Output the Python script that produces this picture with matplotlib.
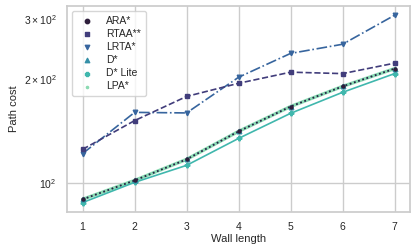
import matplotlib
matplotlib.use('Agg')
import matplotlib.pyplot as plt
import seaborn as sns

sns.set_theme(style='whitegrid')
plt.rcParams['font.family'] = ['Liberation Sans', 'DejaVu Sans']

# 벽 길이별 경로 비용
wall_length = [1, 2, 3, 4, 5, 6, 7]
ara = [89.9, 102, 117.4, 141.5, 167, 191, 215]
rtaa = [125.5, 152, 178.6, 195, 210, 208, 223]
lrta = [122, 160.6, 160, 203, 238, 253, 307]
dstar = [89.9, 102, 117.4, 141.5, 167, 191, 215]
dstar_lite = [88, 100.7, 112.8, 135, 159.6, 183.6, 208]
lpa = [89.9, 102, 117.4, 141.5, 167, 191, 215]

names = ['ARA*', 'RTAA**', 'LRTA*', 'D*', 'D* Lite', 'LPA*']
series = [ara, rtaa, lrta, dstar, dstar_lite, lpa]
markers = ['o', 's', 'v', '^', 'P', '.']
styles = [':', '--', '-.', ':', '-', '-']
colors = sns.color_palette('mako', 6)

fig = plt.figure(figsize=(4.11, 2.45), dpi=100)
ax = fig.add_axes([0.163, 0.135, 0.835, 0.841])

# 그리는 순서: LPA* 가 아래, ARA* 가 위
order = [5, 4, 3, 2, 1, 0]
for i in order:
    ms = {'o': 2.2, '.': 2.5}.get(markers[i], 3.3)
    ax.plot(wall_length, series[i], linestyle=styles[i], color=colors[i],
            marker=markers[i], markersize=ms,
            linewidth=1.2 if i != 5 else 2.4, zorder=2 + (5 - i))

# 범례는 마커만
for i in range(6):
    ax.scatter([], [], marker=markers[i], color=colors[i], s=10, label=names[i])

ax.set_yscale('log')
ax.set_xlabel('Wall length', fontsize=8, labelpad=1)
ax.set_ylabel('Path cost', fontsize=8, labelpad=3)
ax.tick_params(axis='both', labelsize=7.5, pad=1.5)
ax.tick_params(axis='y', which='minor', labelsize=7.5, left=False)
ax.grid(True, which='major')
ax.legend(loc='upper left', fontsize=7.5, frameon=True, handletextpad=0.8,
          labelspacing=0.3, borderpad=0.45)

fig.savefig('out.png', dpi=100)
